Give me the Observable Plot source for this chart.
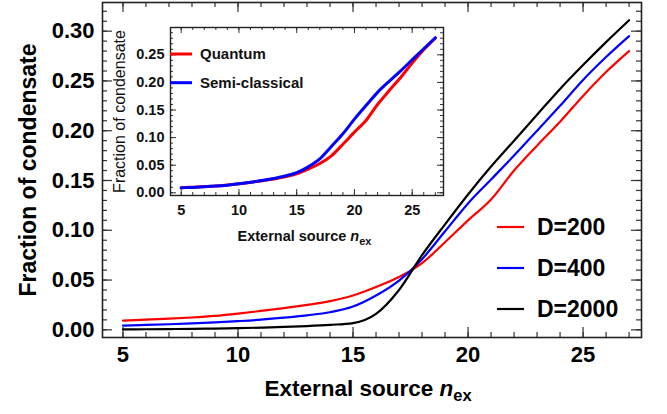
<!DOCTYPE html>
<html>
<head>
<meta charset="utf-8">
<script src="https://cdn.jsdelivr.net/npm/d3@7"></script>
<script src="https://cdn.jsdelivr.net/npm/@observablehq/plot@0.6"></script>
<style>
  body { margin: 0; background: #fff; }
  #wrap { position: relative; width: 667px; height: 414px; overflow: hidden; background: #fff; }
  #wrap svg { position: absolute; }
</style>
</head>
<body>
<div id="wrap"></div>
<script>
// ---------- data ----------
const nex = [5,6,7,8,9,10,11,12,13,14,15,16,17,18,19,20,21,22,23,24,25,26,27];
const fracD200  = [0.0093,0.0102,0.0112,0.0124,0.0140,0.0163,0.0190,0.0218,0.0250,0.0288,0.0345,0.0430,0.0530,0.0670,0.0880,0.1100,0.1310,0.1600,0.1850,0.2090,0.2350,0.2590,0.2800];
const fracD400  = [0.0043,0.0049,0.0056,0.0064,0.0074,0.0087,0.0102,0.0122,0.0146,0.0177,0.0234,0.0345,0.0495,0.0710,0.0990,0.1270,0.1510,0.1750,0.2000,0.2250,0.2510,0.2740,0.2950];
const fracD2000 = [0.0005,0.0006,0.0008,0.0010,0.0013,0.0017,0.0022,0.0029,0.0038,0.0050,0.0068,0.0160,0.0400,0.0750,0.1060,0.1360,0.1640,0.1900,0.2160,0.2420,0.2660,0.2890,0.3110];
const fracSemi  = [0.0090,0.0098,0.0108,0.0121,0.0138,0.0162,0.0190,0.0222,0.0260,0.0305,0.0365,0.0470,0.0615,0.0840,0.1070,0.1335,0.1580,0.1820,0.2020,0.2210,0.2410,0.2610,0.2810];

const seriesNames  = ["D=200", "D=400", "D=2000"];
const seriesColors = ["#ff0000", "#0000ff", "#000000"];
const insetNames   = ["Quantum", "Semi-classical"];
const insetColors  = ["#ff0000", "#0000ff"];

const mainXTicks  = [5, 10, 15, 20, 25];
const mainYTicks  = [0, 0.05, 0.10, 0.15, 0.20, 0.25, 0.30];
const insetXTicks = [5, 10, 15, 20, 25];
const insetYTicks = [0, 0.05, 0.10, 0.15, 0.20, 0.25];

const yLabel = "Fraction of condensate";
const xLabelParts = ["External source ", "n", "ex"];

// ---------- helpers ----------
const font = "'Liberation Sans', Arial, Helvetica, sans-serif";
const mainRows = [];
[fracD200, fracD400, fracD2000].forEach((arr, i) =>
  nex.forEach((x, j) => mainRows.push({nex: x, frac: arr[j], series: seriesNames[i]})));
const insetRows = [];
[fracD200, fracSemi].forEach((arr, i) =>
  nex.forEach((x, j) => insetRows.push({nex: x, frac: arr[j], series: insetNames[i]})));

function frameTicks(xMaj, xMin, yMaj, yMin, pW, pH, maj, min, sw, col) {
  const o = {stroke: col, strokeWidth: sw};
  return [
    Plot.tickX(xMaj, {x: d => d, insetTop: pH - maj, ...o}),
    Plot.tickX(xMaj, {x: d => d, insetBottom: pH - maj, ...o}),
    Plot.tickX(xMin, {x: d => d, insetTop: pH - min, ...o}),
    Plot.tickX(xMin, {x: d => d, insetBottom: pH - min, ...o}),
    Plot.tickY(yMaj, {y: d => d, insetRight: pW - maj, ...o}),
    Plot.tickY(yMaj, {y: d => d, insetLeft: pW - maj, ...o}),
    Plot.tickY(yMin, {y: d => d, insetRight: pW - min, ...o}),
    Plot.tickY(yMin, {y: d => d, insetLeft: pW - min, ...o})
  ];
}

function richLabel(svg, marker, parts, subSize, subDy) {
  svg.querySelectorAll("text").forEach(t => {
    if (t.textContent === marker) {
      while (t.firstChild) t.removeChild(t.firstChild);
      const ns = "http://www.w3.org/2000/svg";
      const a = document.createElementNS(ns, "tspan"); a.textContent = parts[0]; t.appendChild(a);
      const b = document.createElementNS(ns, "tspan"); b.textContent = parts[1];
      b.setAttribute("font-style", "italic"); t.appendChild(b);
      const c = document.createElementNS(ns, "tspan"); c.textContent = parts[2];
      c.setAttribute("font-size", subSize); c.setAttribute("dy", subDy); t.appendChild(c);
    }
  });
}

const wrap = document.getElementById("wrap");
const marker = xLabelParts.join("");

// ---------- main chart ----------
{
  const W = 667, H = 414, mL = 102, mR = 26, mT = 2, mB = 77;
  const pW = W - mL - mR, pH = H - mT - mB;
  const xMin = d3.range(5, 27.5, 1);
  const yMin = d3.range(0, 0.325, 0.01);
  const svg = Plot.plot({
    width: W, height: H,
    marginLeft: mL, marginRight: mR, marginTop: mT, marginBottom: mB,
    style: {fontFamily: font, background: "transparent", overflow: "visible", left: "0px", top: "0px"},
    x: {domain: [4.11, 27.54], axis: null},
    y: {domain: [-0.0077, 0.3288], axis: null},
    color: {domain: seriesNames, range: seriesColors},
    marks: [
      ...frameTicks(mainXTicks, xMin, mainYTicks, yMin, pW, pH, 10, 5, 1.2, "#333"),
      Plot.line(mainRows, {x: "nex", y: "frac", z: "series", stroke: "series", strokeWidth: 2.2, curve: "monotone-x"}),
      Plot.frame({stroke: "#222", strokeWidth: 1.6}),
      Plot.text(mainXTicks, {x: d => d, frameAnchor: "bottom", dy: 17, text: d => String(d), fontSize: 22, fontWeight: "bold", lineAnchor: "middle", fill: "#000"}),
      Plot.text(mainYTicks, {y: d => d, frameAnchor: "left", dx: -8, text: d => d.toFixed(2), textAnchor: "end", fontSize: 22, fontWeight: "bold", fill: "#000"}),
      Plot.text([yLabel], {frameAnchor: "left", dx: -74, rotate: -90, textAnchor: "middle", lineAnchor: "middle", text: d => d, fontSize: 23, fontWeight: "bold", fill: "#000"}),
      Plot.text([marker], {frameAnchor: "bottom", dx: -4, dy: 58, textAnchor: "middle", lineAnchor: "bottom", text: d => d, fontSize: 22.5, fontWeight: "bold", fill: "#000"})
    ]
  });
  richLabel(svg, marker, xLabelParts, 16.5, 5);
  wrap.appendChild(svg);
}

// ---------- inset chart ----------
{
  const W = 340, H = 230, mL = 60, mR = 7, mT = 7, mB = 55;
  const pW = W - mL - mR, pH = H - mT - mB;
  const xMin = d3.range(5, 27.5, 1);
  const yMin = d3.range(0, 0.295, 0.01);
  const svg = Plot.plot({
    width: W, height: H,
    marginLeft: mL, marginRight: mR, marginTop: mT, marginBottom: mB,
    style: {fontFamily: font, background: "transparent", overflow: "visible", left: "110px", top: "20px"},
    x: {domain: [4.074, 27.71], axis: null},
    y: {domain: [-0.0049, 0.2995], axis: null},
    color: {domain: insetNames, range: insetColors},
    marks: [
      ...frameTicks(insetXTicks, xMin, insetYTicks, yMin, pW, pH, 6, 3, 1, "#333"),
      Plot.line(insetRows, {x: "nex", y: "frac", z: "series", stroke: "series", strokeWidth: 3, curve: "monotone-x"}),
      Plot.frame({stroke: "#222", strokeWidth: 1.4}),
      Plot.text(insetXTicks, {x: d => d, frameAnchor: "bottom", dy: 15, text: d => String(d), fontSize: 14.5, fontWeight: "bold", lineAnchor: "middle", fill: "#111"}),
      Plot.text(insetYTicks, {y: d => d, frameAnchor: "left", dx: -6, text: d => d.toFixed(2), textAnchor: "end", fontSize: 14.5, fontWeight: "bold", fill: "#111"}),
      Plot.text([yLabel], {frameAnchor: "left", dx: -51, rotate: -90, textAnchor: "middle", lineAnchor: "middle", text: d => d, fontSize: 16, fill: "#111"}),
      Plot.text([marker], {frameAnchor: "bottom", dx: -2.5, dy: 45.7, textAnchor: "middle", lineAnchor: "bottom", text: d => d, fontSize: 14.5, fontWeight: "bold", fill: "#111"})
    ]
  });
  richLabel(svg, marker, xLabelParts, 11, 3.5);
  wrap.appendChild(svg);
}

// ---------- legends ----------
{
  const svg = d3.create("svg").attr("width", 667).attr("height", 414)
    .style("left", "0px").style("top", "0px").style("font-family", font);
  const mainRowsY = [227, 268, 309];
  seriesNames.forEach((name, i) => {
    svg.append("line").attr("x1", 497).attr("x2", 524).attr("y1", mainRowsY[i]).attr("y2", mainRowsY[i])
      .attr("stroke", seriesColors[i]).attr("stroke-width", 2.2);
    svg.append("text").attr("x", 537).attr("y", mainRowsY[i] + 7.5).attr("font-size", 23)
      .attr("font-weight", "bold").attr("fill", "#000").text(name);
  });
  const insetRowsY = [54, 82.7];
  insetNames.forEach((name, i) => {
    svg.append("line").attr("x1", 170).attr("x2", 192).attr("y1", insetRowsY[i]).attr("y2", insetRowsY[i])
      .attr("stroke", insetColors[i]).attr("stroke-width", 3);
    svg.append("text").attr("x", 200).attr("y", insetRowsY[i] + 5).attr("font-size", 15)
      .attr("font-weight", "bold").attr("fill", "#111").text(name);
  });
  wrap.appendChild(svg.node());
}
</script>
</body>
</html>
